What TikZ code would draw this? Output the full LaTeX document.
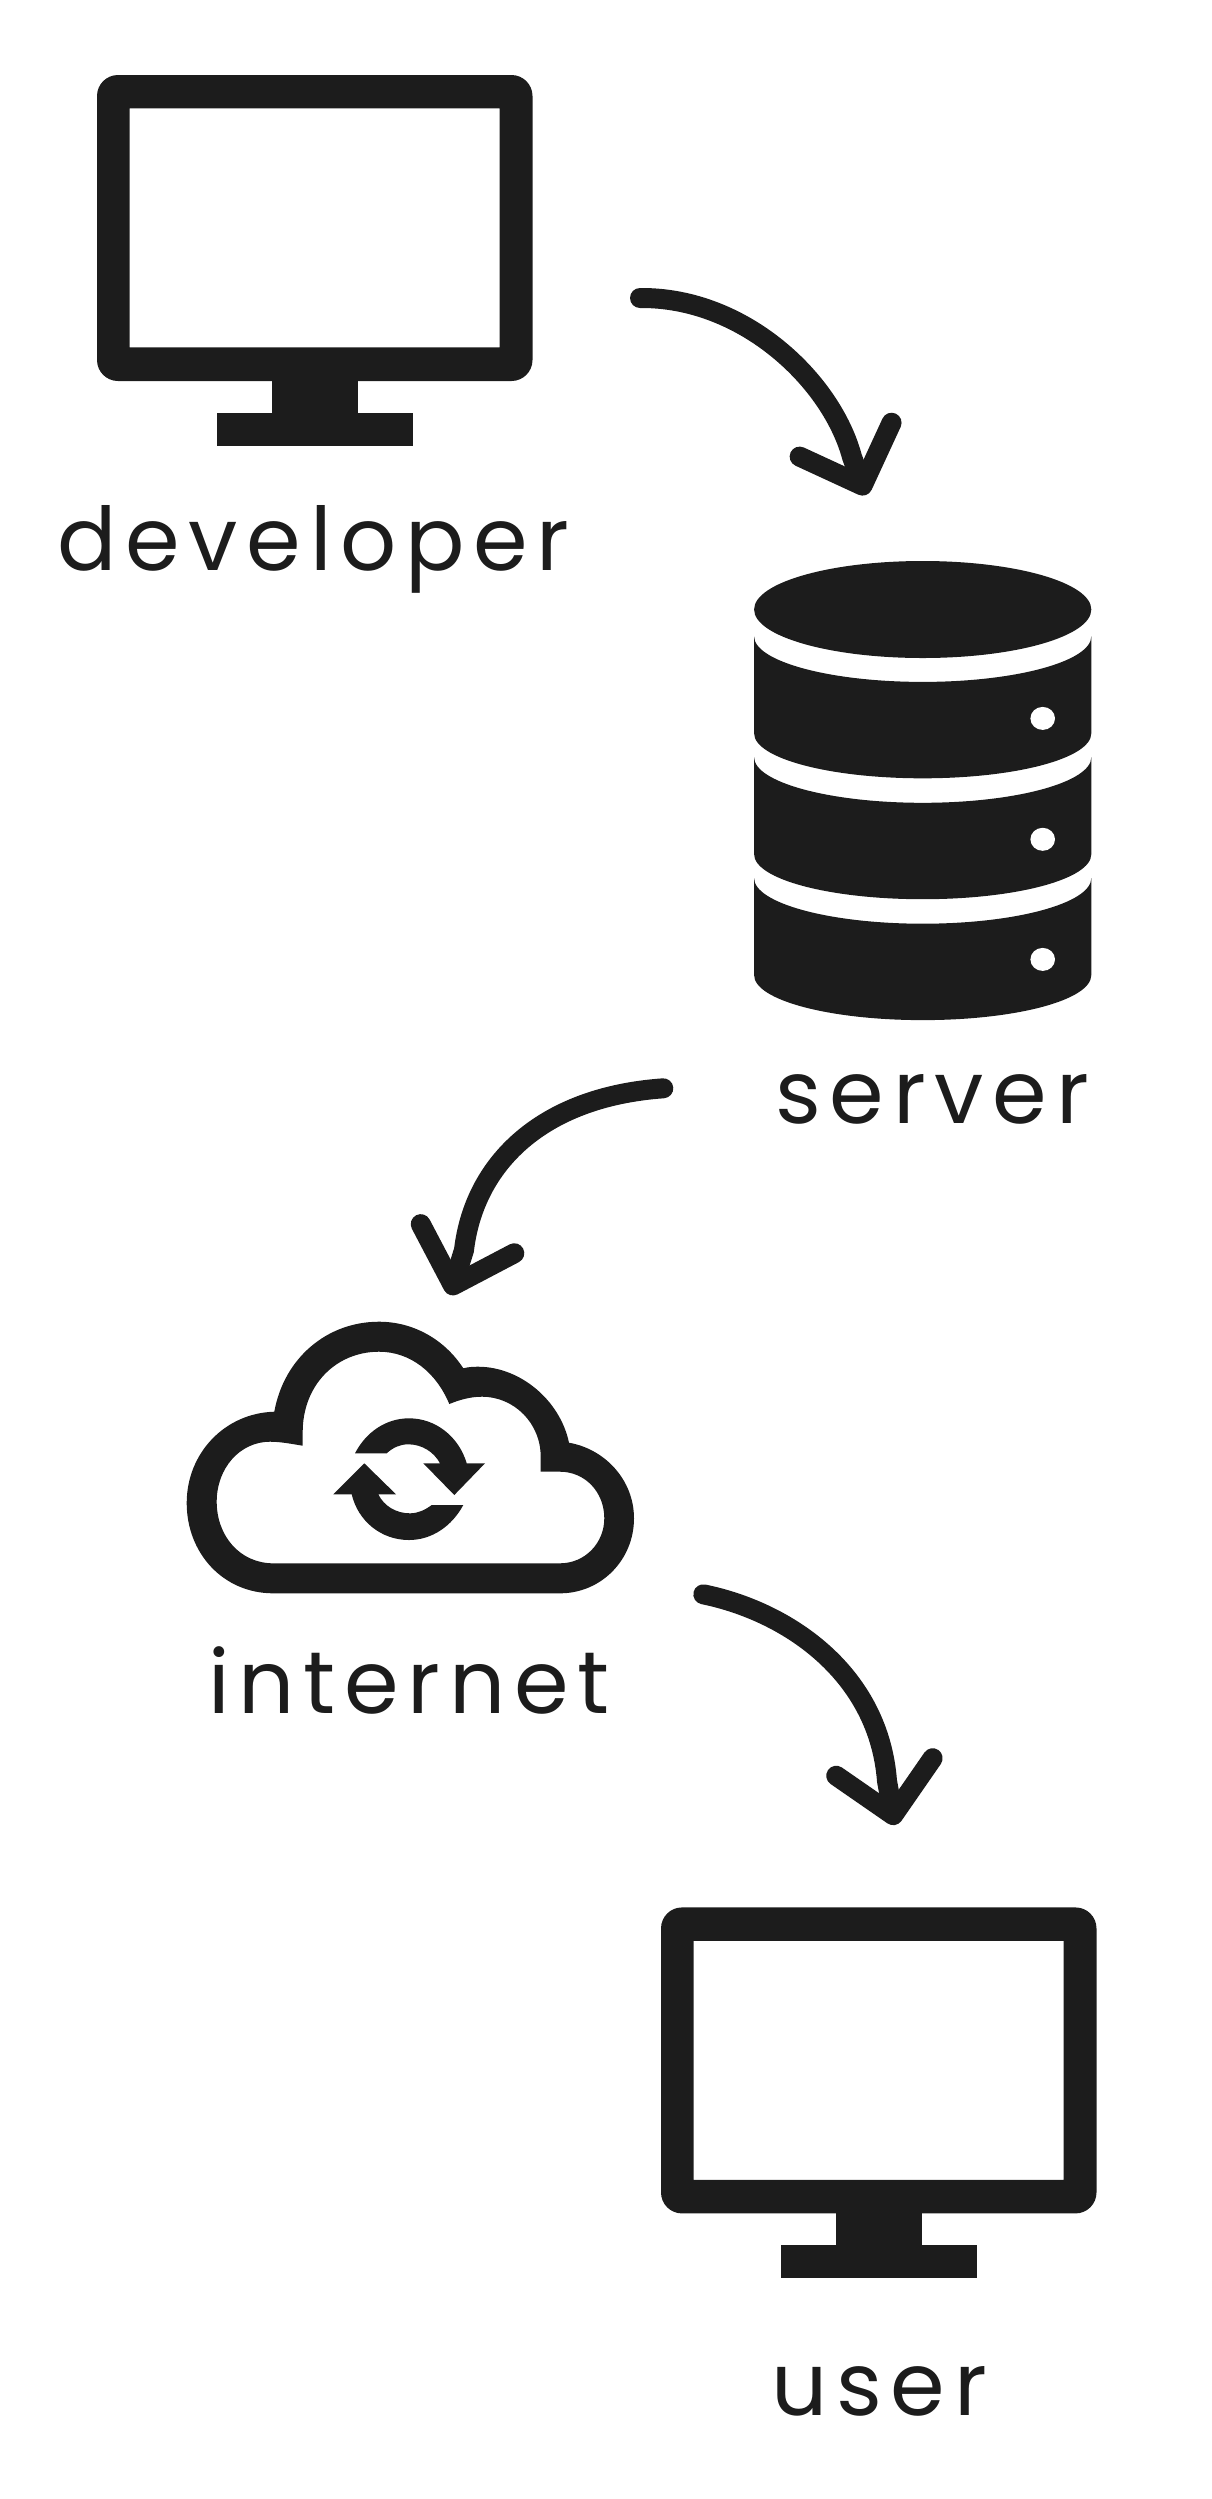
\documentclass[tikz,border=0pt]{standalone}
\usepackage{xcolor}
\usepackage{fontspec}
\usepackage{tikz}
\usetikzlibrary{arrows.meta, positioning}
\newfontfamily\labelfont[LetterSpace=10]{Poppins}
\definecolor{myink}{RGB}{28,28,28}
\tikzset{
  iconfill/.style={fill=myink, even odd rule},
  whitefill/.style={fill=white},
  label/.style={anchor=base, inner sep=0pt, text=myink, font=\labelfont\fontsize{50}{56}\selectfont},
  flowarrow/.style={-{Straight Barb[round, length=0.98cm, width=1.96cm]}, line width=0.4cm, line cap=round, color=myink},
  monitor/.pic={
    \fill[iconfill, rounded corners=0.42cm] (97,75) rectangle (532.5,381)
      [sharp corners] (129.5,108.4) rectangle (499.6,347.4);
    \fill[iconfill] (271.5,375) rectangle (358.4,420);
    \fill[iconfill] (217,412.7) rectangle (413,446);
  }
}

\begin{document}
\begin{tikzpicture}[x=0.02cm, y=-0.02cm]
  \useasboundingbox (0,0) rectangle (1211,2499);

  % Monitors
  \pic at (0,0) {monitor};
  \pic at (564,1832.4) {monitor};

  % Database
  \fill[iconfill] (922.7,609.5) ellipse [x radius=168.6, y radius=48.5];
  \foreach \yy/\dy in {636.3/718.4, 757.2/839.3, 878.1/959.4} {
    \fill[iconfill] (754.1,\yy) .. controls (754.1,\yy+25) and (829.5,\yy+45.6) .. (922.7,\yy+45.6)
      .. controls (1015.9,\yy+45.6) and (1091.3,\yy+25) .. (1091.3,\yy)
      -- (1091.3,\yy+97) .. controls (1091.3,\yy+122) and (1015.9,\yy+142) .. (922.7,\yy+142)
      .. controls (829.5,\yy+142) and (754.1,\yy+122) .. (754.1,\yy+97) -- cycle;
    \fill[whitefill] (1042.7,\dy) ellipse [x radius=12.3, y radius=11.5];
  }

  % Cloud
  \fill[iconfill] (273.3,1593.3) -- (560,1593.3)
    .. controls (601,1593.3) and (634,1560) .. (634,1518.3)
    .. controls (634,1480) and (605,1449) .. (569,1442.7)
    .. controls (560,1400) and (520,1366.7) .. (478,1366.7)
    .. controls (473,1366.7) and (468,1367) .. (463.3,1368.3)
    .. controls (445,1340) and (414,1321.7) .. (379,1321.7)
    .. controls (327,1321.7) and (284,1358) .. (274.3,1411.7)
    .. controls (225,1413) and (186.7,1453) .. (186.7,1503)
    .. controls (186.7,1553) and (223,1593.3) .. (273.3,1593.3) -- cycle
    (273.3,1563.3) -- (560,1563.3)
    .. controls (585,1563.3) and (604.3,1543) .. (604.3,1518.3)
    .. controls (604.3,1492) and (585,1471.7) .. (560,1471.7)
    -- (540.7,1471.7) -- (540.7,1456.7)
    .. controls (540.7,1423) and (514,1396.7) .. (482,1396.7)
    .. controls (470,1396.7) and (459,1400) .. (449.3,1404)
    .. controls (436,1372) and (410,1351.7) .. (379,1351.7)
    .. controls (336,1351.7) and (302.7,1385) .. (302.7,1432)
    -- (302.7,1445.7)
    .. controls (292,1444) and (281,1441.7) .. (270,1441.7)
    .. controls (240,1441.7) and (216.7,1468) .. (216.7,1501.7)
    .. controls (216.7,1536) and (240,1563.3) .. (273.3,1563.3) -- cycle;

  % Sync arrows
  \fill[iconfill] (355,1453.3) .. controls (366,1432) and (386,1418.3) .. (409,1418.3)
    .. controls (436,1418.3) and (459,1437) .. (466.7,1463.3)
    -- (485,1463.3) -- (454.3,1495) -- (423.3,1463.3) -- (440,1463.3)
    .. controls (434,1452) and (422,1444.3) .. (408.3,1444.3)
    .. controls (400,1444.3) and (393,1447.5) .. (386.7,1453.3) -- cycle;
  \fill[iconfill] (463.3,1505) .. controls (452,1526) and (432,1540) .. (409,1540)
    .. controls (381,1540) and (358,1521) .. (351.7,1494.3)
    -- (333.3,1494.3) -- (364.3,1463.3) -- (396,1494.3) -- (378.3,1494.3)
    .. controls (384,1506) and (396,1513.3) .. (410,1513.3)
    .. controls (418,1513.3) and (425,1510) .. (431.7,1505) -- cycle;

  % Labels
  \node[label] (developer) at (313.5,570.5) {developer};
  \node[label] (server) at (932,1123) {server};
  \node[label] (internet) at (409,1713) {internet};
  \node[label] (user) at (879,2415.7) {user};

  % Arrow ends
  \coordinate (devout) at (640,298);
  \coordinate (srvneck) at (852,457);
  \coordinate (srvin) at (866,495);
  \coordinate (srvout) at (663.3,1088.3);
  \coordinate (netneck) at (464,1250);
  \coordinate (netin) at (450,1295);
  \coordinate (netout) at (703.3,1594.3);
  \coordinate (usrneck) at (887,1781);
  \coordinate (usrin) at (895,1825);

  % Arrows
  \draw[flowarrow] (devout) .. controls (745,297) and (832,382) .. (srvneck) -- (srvin);
  \draw[flowarrow] (srvout) .. controls (540,1097) and (474,1165) .. (netneck) -- (netin);
  \draw[flowarrow] (netout) .. controls (790,1612) and (879,1675) .. (usrneck) -- (usrin);
\end{tikzpicture}
\end{document}
